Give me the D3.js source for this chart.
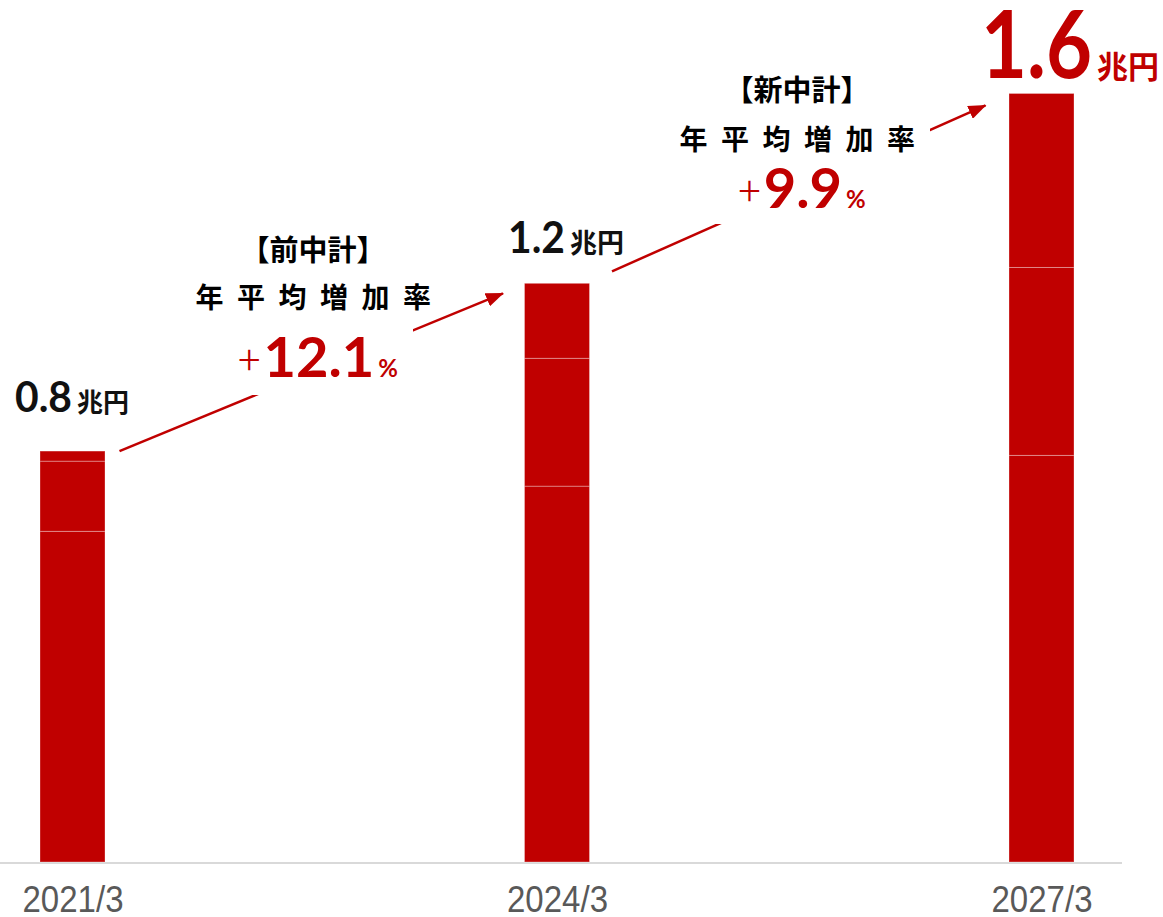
<!DOCTYPE html>
<html>
<head>
<meta charset="utf-8">
<script src="https://cdn.jsdelivr.net/npm/d3@7"></script>
<style>
  html, body { margin: 0; padding: 0; background: #fff; }
  svg { display: block; }
</style>
</head>
<body>
<svg id="chart" width="1163" height="917"></svg>
<script>
// ---- data ----
const categories = ["2021/3", "2024/3", "2027/3"];
const segBottom = [0.688, 0.782, 0.846];
const segMiddle = [0.146, 0.266, 0.391];
const segTop    = [0.021, 0.156, 0.362];
const totalLabels = ["0.8", "1.2", "1.6"];
const unitLabel = "兆円";
const planLabels = ["【前中計】", "【新中計】"];
const growthTitle = "年平均増加率";
const growthRates = ["12.1", "9.9"];

const RED = "#c00000";
const svg = d3.select("#chart");

const x = d3.scalePoint().domain(categories).range([72.5, 1041.5]);
const y = d3.scaleLinear().domain([0, 1.6]).range([862, 93]);
const barW = 65;

const totals = categories.map((c, i) => segBottom[i] + segMiddle[i] + segTop[i]);

// axis baseline
svg.append("line")
  .attr("x1", 0).attr("x2", 1122)
  .attr("y1", y(0) + 1).attr("y2", y(0) + 1)
  .attr("stroke", "#d9d9d9").attr("stroke-width", 2);

// stacked bars
const stackData = categories.map((c, i) => ({cat: c, bottom: segBottom[i], middle: segMiddle[i], top: segTop[i]}));
const series = d3.stack().keys(["bottom", "middle", "top"])(stackData);
svg.append("g").selectAll("g").data(series).join("g")
  .selectAll("rect").data(d => d).join("rect")
  .attr("x", d => x(d.data.cat) - barW / 2)
  .attr("width", barW)
  .attr("y", d => y(d[1]))
  .attr("height", d => y(d[0]) - y(d[1]))
  .attr("fill", RED)
  .attr("stroke", "rgba(255,255,255,0.3)")
  .attr("stroke-width", 1);

// x tick labels
const xAxis = d3.axisBottom(x).tickSize(0).tickPadding(0);
const ax = svg.append("g").attr("transform", `translate(0, ${y(0)})`).call(xAxis);
ax.select(".domain").remove();
ax.selectAll("text")
  .attr("y", 50)
  .attr("dy", 0)
  .attr("font-family", "'Liberation Sans Narrow', 'Liberation Sans', sans-serif")
  .attr("font-size", 36)
  .attr("fill", "#595959")
  .attr("textLength", 101)
  .attr("lengthAdjust", "spacingAndGlyphs");

// arrows
const defs = svg.append("defs");
defs.append("marker")
  .attr("id", "arrowhead")
  .attr("markerUnits", "userSpaceOnUse")
  .attr("viewBox", "0 0 18 14")
  .attr("refX", 17).attr("refY", 7)
  .attr("markerWidth", 18).attr("markerHeight", 14)
  .attr("orient", "auto")
  .append("path").attr("d", "M0,0 L18,7 L0,14 Z").attr("fill", RED);

const arrows = [
  {x1: x(categories[0]) + 47, y1: y(totals[0]), x2: x(categories[1]) - 54, y2: y(totals[1]) + 10},
  {x1: x(categories[1]) + 55, y1: y(totals[1]) - 12, x2: x(categories[2]) - 56, y2: y(totals[2]) + 12}
];
svg.append("g").selectAll("line").data(arrows).join("line")
  .attr("x1", d => d.x1).attr("y1", d => d.y1)
  .attr("x2", d => d.x2).attr("y2", d => d.y2)
  .attr("stroke", RED).attr("stroke-width", 2.5)
  .attr("marker-end", "url(#arrowhead)");

// white boxes behind growth blocks (break the arrow lines)
const blocks = [
  {cx: 313, box: [185, 225, 413, 395], y0: 261, y1: 308, y2: 377},
  {cx: 797, box: [665, 65, 930, 224], y0: 101, y1: 150, y2: 208}
];
svg.append("g").selectAll("rect").data(blocks).join("rect")
  .attr("x", d => d.box[0]).attr("y", d => d.box[1])
  .attr("width", d => d.box[2] - d.box[0]).attr("height", d => d.box[3] - d.box[1])
  .attr("fill", "#fff");

const JP = "'Noto Sans CJK JP', 'Noto Sans', sans-serif";
const NUM = "Lato, 'Noto Sans', sans-serif";

blocks.forEach((b, i) => {
  svg.append("text")
    .attr("x", b.cx).attr("y", b.y0)
    .attr("text-anchor", "middle")
    .attr("font-family", JP).attr("font-weight", 700).attr("font-size", 29)
    .attr("fill", "#000")
    .text(planLabels[i]);
  svg.append("text")
    .attr("x", b.cx + 7).attr("y", b.y1)
    .attr("text-anchor", "middle")
    .attr("font-family", JP).attr("font-weight", 700).attr("font-size", 28)
    .attr("letter-spacing", 13.5)
    .attr("fill", "#000")
    .text(growthTitle);
  const t = svg.append("text")
    .attr("x", b.cx + 5).attr("y", b.y2)
    .attr("text-anchor", "middle")
    .attr("fill", RED);
  t.append("tspan").attr("font-family", JP).attr("font-weight", 200).attr("font-size", 42).attr("dy", -2).text("+");
  t.append("tspan").attr("font-family", NUM).attr("font-weight", 700).attr("font-size", 56).attr("dx", 3).attr("dy", 2).text(growthRates[i]);
  t.append("tspan").attr("font-family", NUM).attr("font-weight", 700).attr("font-size", 24).attr("dx", 4).text("%");
});

// total labels
const totalStyle = [
  {x: 15, y: 412, num: 42, w: 57, unit: 26, color: "#111"},
  {x: 508, y: 253, num: 43, w: 57, unit: 27, color: "#111"},
  {x: 981, y: 78, num: 94, w: 111, unit: 31, color: RED}
];
categories.forEach((c, i) => {
  const s = totalStyle[i];
  svg.append("text").attr("x", s.x).attr("y", s.y).attr("fill", s.color)
    .attr("font-family", NUM).attr("font-weight", 700).attr("font-size", s.num)
    .attr("textLength", s.w).attr("lengthAdjust", "spacingAndGlyphs")
    .text(totalLabels[i]);
  svg.append("text").attr("x", s.x + s.w + 5).attr("y", s.y)
    .attr("fill", s.color)
    .attr("font-family", JP).attr("font-weight", 700).attr("font-size", s.unit)
    .text(unitLabel);
});
</script>
</body>
</html>
